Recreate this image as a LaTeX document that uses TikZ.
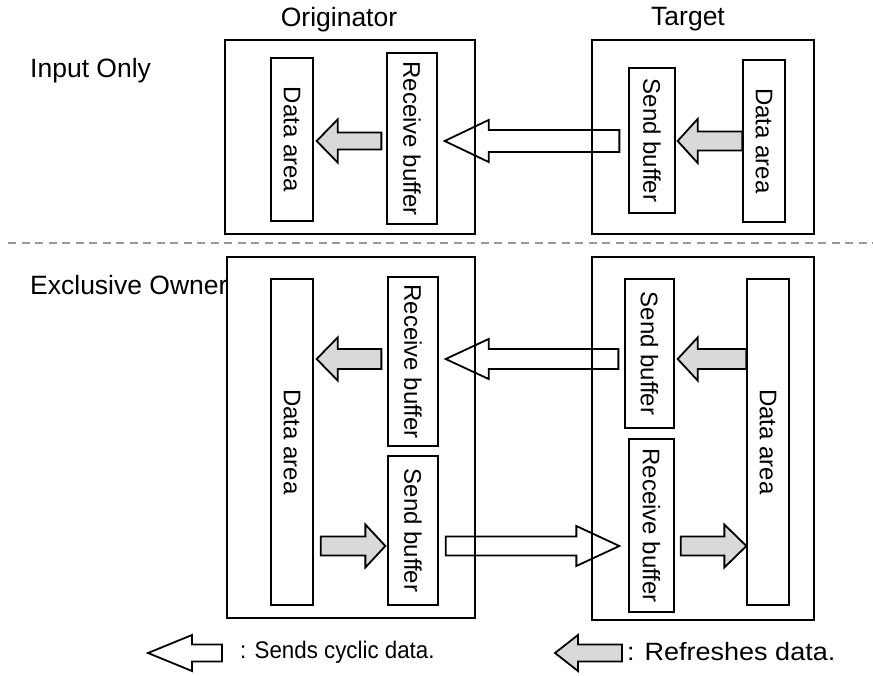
\documentclass[tikz,border=0pt]{standalone}
\usepackage{fontspec}
\setmainfont{Liberation Sans}
\usetikzlibrary{calc}
\definecolor{refgrey}{HTML}{D9D9D9}
\definecolor{dashgrey}{HTML}{999999}
\tikzset{
  outerbox/.style={draw, line width=1.3pt, inner sep=0pt},
  innerbox/.style={draw, line width=1.3pt, inner sep=0pt, font=\fontsize{24}{27}\selectfont},
  lbl/.style={font=\fontsize{26.5}{30}\selectfont, inner sep=0pt},
  legS/.style={font=\fontsize{24}{28}\selectfont, inner sep=0pt},
  legR/.style={font=\fontsize{25}{29}\selectfont, inner sep=0pt},
  hollowarrow/.style={draw, line width=1.8pt, line join=miter},
  greyarrow/.style={draw, fill=refgrey, line width=1.8pt, line join=miter},
  sepline/.style={draw=dashgrey, line width=1.3pt, dash pattern=on 8pt off 5.5pt}
}
% #1 style, #2 tail, #3 tip, #4 shaft half width, #5 head half width, #6 head length
\newcommand\blockarrow[6]{%
  \path[#1] let \p1=#2, \p2=#3, \n1={ifthenelse(\x2>\x1,1,-1)}, \n2={\x2-\n1*#6} in
    (\x1,\y1+#4) -- ({\n2*1pt},\y1+#4) -- ({\n2*1pt},\y1+#5) -- (\x2,\y1)
    -- ({\n2*1pt},\y1-#5) -- ({\n2*1pt},\y1-#4) -- (\x1,\y1-#4) -- cycle;}
\begin{document}
\begin{tikzpicture}[x=1pt,y=-1pt]
\useasboundingbox (0,0) rectangle (873,675);

% headings
\node[lbl] (hOrig) at (339,20) {Originator};
\node[lbl] (hTarg) at (688,19) {Target};
\node[lbl, anchor=west] (hIn) at (30,71) {Input Only};
\node[lbl, anchor=west] (hEx) at (30,285) {Exclusive Owner};

% separator
\coordinate (sepL) at (8,243);
\coordinate (sepR) at (873,243);
\path[sepline] (sepL) -- (sepR);

% outer boxes
\node[outerbox, minimum width=250pt, minimum height=194pt] (origA) at (350,137) {};
\node[outerbox, minimum width=222pt, minimum height=194pt] (targA) at (703,137) {};
\node[outerbox, minimum width=248pt, minimum height=361pt] (origB) at (351,437.5) {};
\node[outerbox, minimum width=222pt, minimum height=363pt] (targB) at (703,438.5) {};

% inner boxes, top
\node[innerbox, minimum width=42pt, minimum height=163pt] (dataOA) at (292,139.5) {\rotatebox{-90}{Data area}};
\node[innerbox, minimum width=50pt, minimum height=171pt] (recvOA) at (412,138.5) {\rotatebox{-90}{Receive buffer}};
\node[innerbox, minimum width=46pt, minimum height=145pt] (sendTA) at (652,140.5) {\rotatebox{-90}{Send buffer}};
\node[innerbox, minimum width=42pt, minimum height=162pt] (dataTA) at (764,141) {\rotatebox{-90}{Data area}};

% inner boxes, bottom
\node[innerbox, minimum width=42pt, minimum height=326pt] (dataOB) at (292,442) {\rotatebox{-90}{Data area}};
\node[innerbox, minimum width=50pt, minimum height=169pt] (recvOB) at (413,361.5) {\rotatebox{-90}{Receive buffer}};
\node[innerbox, minimum width=50pt, minimum height=149pt] (sendOB) at (413,530.5) {\rotatebox{-90}{Send buffer}};
\node[innerbox, minimum width=49pt, minimum height=149pt] (sendTB) at (649.5,353.5) {\rotatebox{-90}{Send buffer}};
\node[innerbox, minimum width=45pt, minimum height=173pt] (recvTB) at (651.5,525.5) {\rotatebox{-90}{Receive buffer}};
\node[innerbox, minimum width=42pt, minimum height=326pt] (dataTB) at (768,442) {\rotatebox{-90}{Data area}};

% arrow rows
\coordinate (r1) at (0,141);
\coordinate (r2) at (0,359);
\coordinate (r3) at (0,546);

% top arrows
\blockarrow{greyarrow}{($(recvOA.west|-r1)+(-5,0)$)}{($(dataOA.east|-r1)+(3,0)$)}{8.5pt}{21.5pt}{21pt}
\blockarrow{hollowarrow}{($(sendTA.west|-r1)+(-9,0)$)}{($(recvOA.east|-r1)+(7,0)$)}{11pt}{21pt}{44pt}
\blockarrow{greyarrow}{(dataTA.west|-r1)}{($(sendTA.east|-r1)+(2,0)$)}{9.5pt}{22pt}{20pt}

% bottom arrows
\blockarrow{greyarrow}{($(recvOB.west|-r2)+(-6,0)$)}{($(dataOB.east|-r2)+(3,0)$)}{10pt}{21.5pt}{21pt}
\blockarrow{hollowarrow}{($(sendTB.west|-r2)+(-6,0)$)}{($(recvOB.east|-r2)+(7,0)$)}{10pt}{20pt}{43pt}
\blockarrow{greyarrow}{(dataTB.west|-r2)}{($(sendTB.east|-r2)+(3,0)$)}{10pt}{21.5pt}{20pt}

\blockarrow{greyarrow}{($(dataOB.east|-r3)+(7,0)$)}{($(sendOB.west|-r3)+(-2,0)$)}{9.5pt}{21.5pt}{20pt}
\blockarrow{hollowarrow}{($(sendOB.east|-r3)+(7,0)$)}{($(recvTB.west|-r3)+(-9,0)$)}{9.5pt}{20pt}{43pt}
\blockarrow{greyarrow}{($(recvTB.east|-r3)+(6,0)$)}{(dataTB.west|-r3)}{9.5pt}{21.5pt}{22pt}

% legend
\coordinate (legHtail) at (222,653);
\coordinate (legHtip) at (148,653);
\coordinate (legGtail) at (622,653);
\coordinate (legGtip) at (555,653);
\blockarrow{hollowarrow}{(legHtail)}{(legHtip)}{8.5pt}{18pt}{44pt}
\blockarrow{greyarrow}{(legGtail)}{(legGtip)}{8.5pt}{18pt}{23pt}
\node[legS, anchor=west] (legH) at (240,652) {\scalebox{0.93}[1]{: Sends cyclic data.}};
\node[legR, anchor=west] (legG) at (627,652) {\scalebox{1.08}[1]{: Refreshes data.}};
\end{tikzpicture}
\end{document}
